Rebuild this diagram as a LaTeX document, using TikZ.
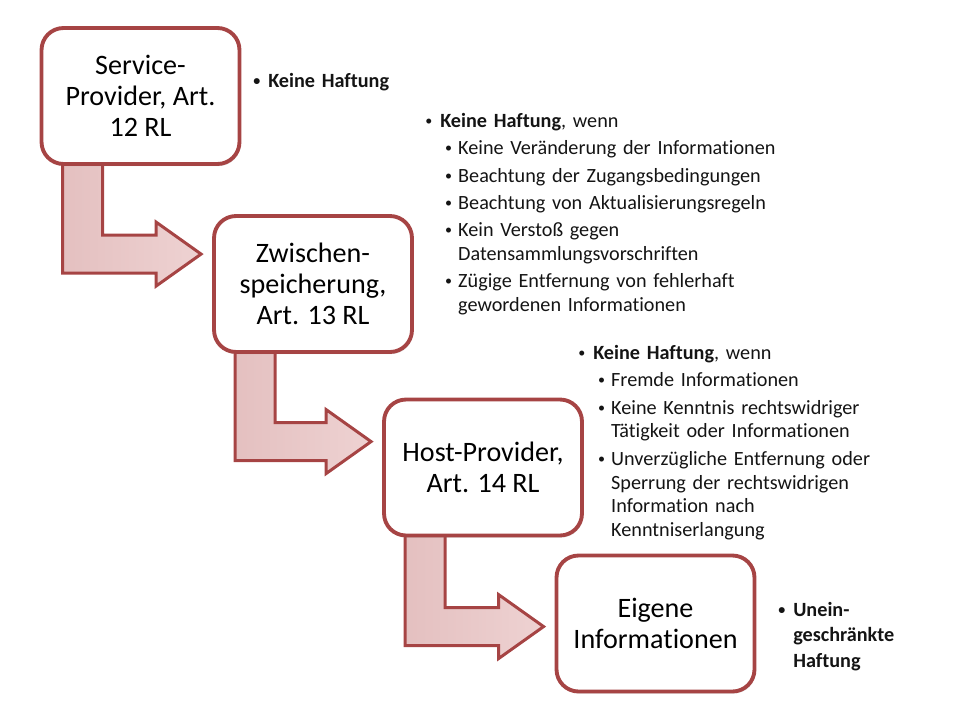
\documentclass[tikz,border=0pt]{standalone}
\usepackage{fontspec}
\setmainfont{Carlito}[Ligatures=NoCommon]
\usetikzlibrary{calc,shadows}
\definecolor{BoxRed}{RGB}{166,68,68}
\definecolor{ArrowPinkA}{RGB}{228,192,192}
\definecolor{ArrowPinkB}{RGB}{238,210,210}
\definecolor{NoteInk}{RGB}{20,20,20}
\pgfdeclarelayer{background}
\pgfsetlayers{background,main}

% bullet items for the side notes
\newcommand{\dotmark}{\raisebox{0.2ex}{\fontsize{8}{8}\selectfont •}}
\newcommand{\itm}[1]{\par\parskip=1.9pt\hangindent=8.5pt\hangafter=1\noindent\strut\makebox[8.5pt][l]{\dotmark}#1}
\newcommand{\subitm}[1]{\par\parskip=1.9pt\hangindent=18.7pt\hangafter=1\noindent\strut\hspace*{11.3pt}\makebox[7.4pt][l]{\dotmark}#1}

% bent arrow from one stage to the next: from, to, tip below top of target
\newcommand{\bendarrow}[3]{%
  \coordinate (tip) at ($(#2.north west)+(-11,#3)$);
  \begin{pgfonlayer}{background}
  \draw[flow] ($(#1.south west)+(23,-8)$) |- ($(tip)+(-45,19)$)
    -- ($(tip)+(-45,32)$) -- (tip)
    -- ($(tip)+(-45,-32)$) -- ($(tip)+(-45,-19)$)
    -| ($(#1.south west)+(63,-8)$) -- cycle;
  \end{pgfonlayer}}

\begin{document}
\begin{tikzpicture}[x=0.02cm,y=-0.02cm,
  stage/.style={draw=BoxRed,line width=2.2pt,fill=white,rounded corners=12.5pt,
    minimum width=3.96cm,minimum height=2.72cm,align=center,inner sep=2pt,
    font=\fontsize{16}{17.6}\selectfont,
    drop shadow={opacity=0.25,shadow xshift=0.6pt,shadow yshift=-1.2pt}},
  flow/.style={draw=BoxRed,line width=1.7pt,left color=ArrowPinkA,right color=ArrowPinkB},
  notes/.style={anchor=north west,inner sep=0pt,text width=9cm,align=left,
    text=NoteInk,font=\fontsize{11.5}{13.6}\selectfont}]
  \useasboundingbox (0,0) rectangle (960,720);
  % stages
  \node[stage] (sp) at (140.5,96) {Service-\\Provider, Art.\\12 RL};
  \node[stage] (zw) at (313,284) {Zwischen-\\speicherung,\\Art. 13 RL};
  \node[stage] (hp) at (483,467.5) {Host-Provider,\\Art. 14 RL};
  \node[stage] (ei) at (655.5,623.5) {Eigene\\Informationen};
  % arrows between stages
  \bendarrow{sp}{zw}{40}
  \bendarrow{zw}{hp}{44}
  \bendarrow{hp}{ei}{73}
  % side notes
  \node[notes] (n1) at (253,60) {\bfseries\itm{Keine Haftung}\par};
  \node[notes] (n2) at (425,100) {%
    \itm{\textbf{Keine Haftung}, wenn}
    \subitm{Keine Veränderung der Informationen}
    \subitm{Beachtung der Zugangsbedingungen}
    \subitm{Beachtung von Aktualisierungsregeln}
    \subitm{Kein Verstoß gegen\newline Datensammlungsvorschriften}
    \subitm{Zügige Entfernung von fehlerhaft\newline gewordenen Informationen}\par};
  \node[notes] (n3) at (578,332) {%
    \itm{\textbf{Keine Haftung}, wenn}
    \subitm{Fremde Informationen}
    \subitm{Keine Kenntnis rechtswidriger\newline Tätigkeit oder Informationen}
    \subitm{Unverzügliche Entfernung oder\newline Sperrung der rechtswidrigen\newline
      Information nach\newline Kenntniserlangung}\par};
  \node[notes,font=\fontsize{11.5}{14.5}\selectfont] (n4) at (778,587)
    {\bfseries\itm{Unein-\newline geschränkte\newline Haftung}\par};
\end{tikzpicture}
\end{document}
